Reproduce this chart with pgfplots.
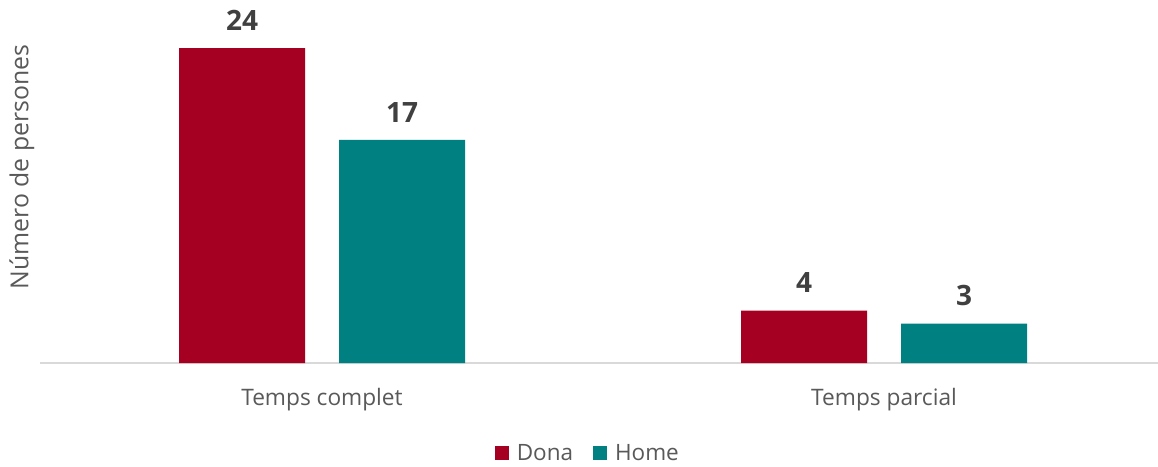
\documentclass[border=0pt]{standalone}
\usepackage{pgfplots}
\pgfplotsset{compat=1.18}
\usepackage{fontspec}
\setmainfont{Open Sans}
\definecolor{dona}{HTML}{A50021}
\definecolor{home}{HTML}{008080}
\definecolor{txt}{HTML}{595959}
\definecolor{lbl}{HTML}{404040}
\definecolor{axl}{HTML}{D9D9D9}
\begin{document}
\begin{tikzpicture}
\begin{axis}[
  name=ax,
  scale only axis,
  width=1118pt, height=363pt,
  ybar=34pt, bar width=126pt,
  ymin=0, ymax=27.66,
  xmin=-0.5018, xmax=1.4875,
  xtick={0,1}, xticklabels={Temps complet, Temps parcial},
  ytick=\empty,
  axis y line*=left,
  axis x line*=bottom,
  y axis line style={draw=none},
  x axis line style={draw=axl, line width=1.2pt, -},
  major tick length=0pt,
  xticklabel style={font=\fontsize{22.7}{27}\selectfont, text=txt, yshift=-22pt},
  ylabel={Número de persones},
  ylabel style={font=\fontsize{24.8}{29}\selectfont, text=txt, at={(axis description cs:-0.0018,0.54)}, anchor=south},
  nodes near coords={\pgfmathprintnumber[assume math mode=true]{\pgfplotspointmeta}},
  every node near coord/.append style={font=\fontsize{28}{33}\selectfont\bfseries, text=lbl, yshift=14pt},
  legend style={draw=none, at={(axis description cs:0.49,-0.248)}, anchor=center, legend columns=2, font=\fontsize{22.5}{27}\selectfont, text=txt, /tikz/every even column/.append style={column sep=18pt}},
  legend image code/.code={\fill[#1] (0pt,-7pt) rectangle (14pt,7pt); \path (20pt,0pt);},
  clip=false,
]
\addplot[fill=dona, draw=none] coordinates {(0,24) (1,4)};
\addplot[fill=home, draw=none] coordinates {(0,17) (1,3)};
\legend{Dona, Home}
\end{axis}
\pgfresetboundingbox
\path[use as bounding box] ([xshift=-40pt,yshift=-103pt]ax.south west) rectangle (ax.north east);
\end{tikzpicture}
\end{document}
